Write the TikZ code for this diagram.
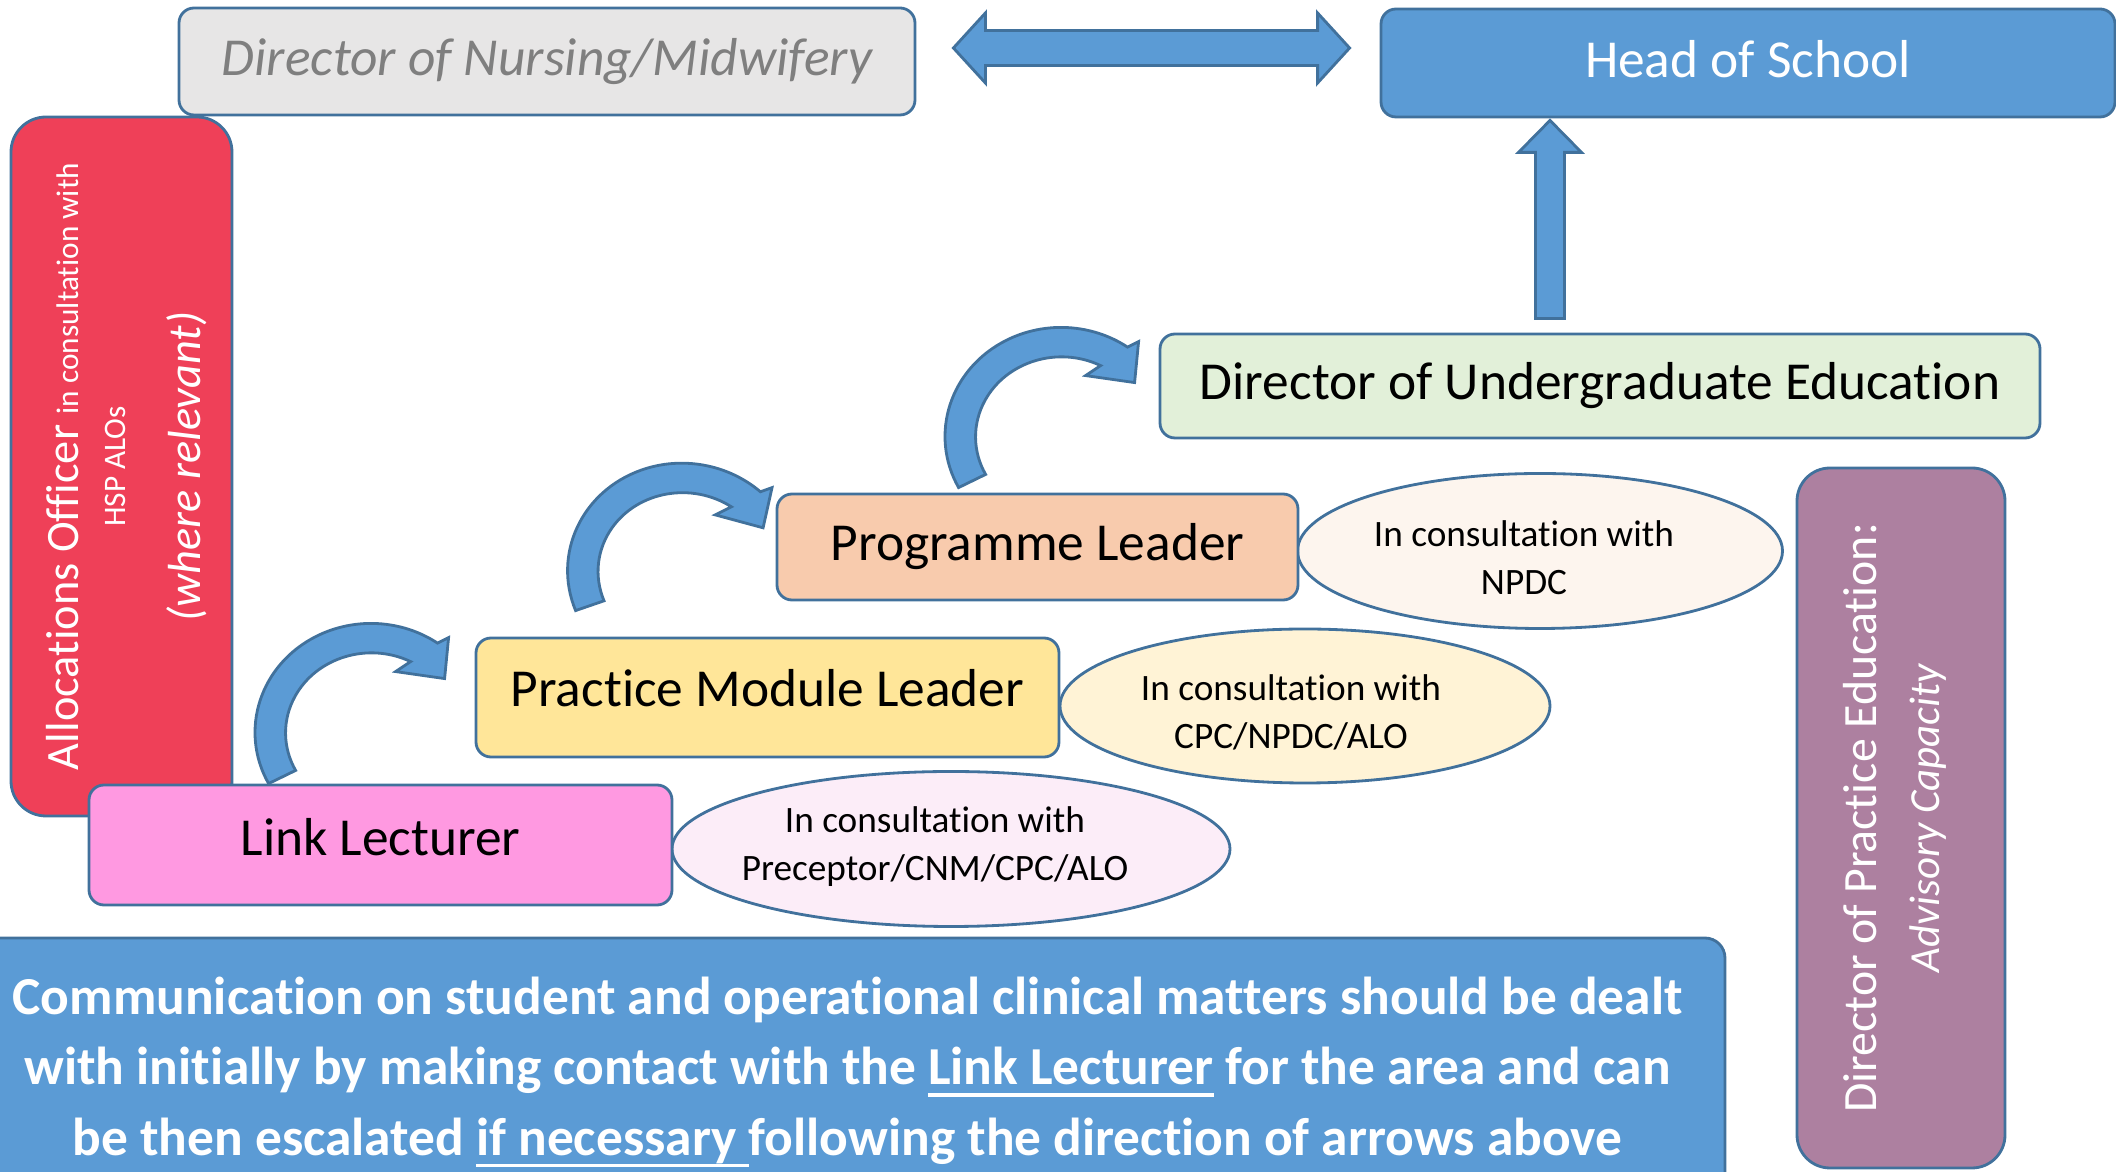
\documentclass[tikz,border=0pt]{standalone}
\usepackage{fontspec}
\setmainfont{Carlito}[Ligatures=NoCommon]
\usetikzlibrary{calc,backgrounds,shapes.geometric}

\definecolor{edgeblue}{HTML}{41719C}
\definecolor{arrowblue}{HTML}{5B9BD5}
\definecolor{greyfill}{HTML}{E7E6E6}
\definecolor{greytext}{HTML}{7F7F7F}
\definecolor{greenfill}{HTML}{E2F0D9}
\definecolor{peachfill}{HTML}{F8CBAD}
\definecolor{yellowfill}{HTML}{FFE699}
\definecolor{pinkfill}{HTML}{FF99E1}
\definecolor{redfill}{HTML}{EF4058}
\definecolor{mauvefill}{HTML}{AD80A0}
\definecolor{npdcfill}{HTML}{FDF5EE}
\definecolor{cpcfill}{HTML}{FFF3D6}
\definecolor{precfill}{HTML}{FCEDF8}

\newsavebox\ulinbox
\newcommand{\ulin}[1]{\sbox\ulinbox{#1}\rlap{\rule[-0.22em]{\wd\ulinbox}{0.066em}}\usebox\ulinbox}

\tikzset{
  role/.style={draw=edgeblue, line width=0.8pt, rounded corners=1.5mm, inner sep=0pt,
    font=\fontsize{15.2}{18}\selectfont},
  consult/.style={ellipse, draw=edgeblue, line width=0.8pt, inner sep=0pt},
  consult text/.style={align=center, inner sep=0pt, font=\fontsize{10.6}{13.7}\selectfont},
  blockarrow/.style={fill=arrowblue, draw=edgeblue, line width=0.8pt, line join=miter},
  curl/.pic={
    \draw[blockarrow] (0,0) arc[start angle=152, end angle=305, x radius=116, y radius=109]
      -- (180,-146) -- (176,-105) -- (127,-112) -- (142,-122)
      arc[start angle=297, end angle=152, x radius=86, y radius=80] -- cycle;
  }
}

\begin{document}
\begin{tikzpicture}[x=0.1mm, y=-0.1mm]
  \useasboundingbox (0,0) rectangle (2116,1172);

  % side boxes
  \node[role, fill=redfill, minimum width=22.1mm, minimum height=69.9mm, rounded corners=3.5mm] (AO) at (121.5,466.5) {};
  \node[rotate=90, text=white, align=center, inner sep=0pt, font=\fontsize{13.2}{13.4}\selectfont] (AO-txt)
        at ($(AO.center)+(5,0)$)
        {Allocations Officer {\fontsize{8.9}{10}\selectfont in consultation with}\\
         {\fontsize{8.9}{10}\selectfont HSP ALOs}\\[8pt]\textit{(where relevant)}};
  \node[role, fill=mauvefill, minimum width=20.8mm, minimum height=70mm, rounded corners=3.3mm] (DPE) at (1901,818) {};
  \node[rotate=90, text=white, align=center, inner sep=0pt, font=\fontsize{13.6}{18}\selectfont] (DPE-txt)
        at ($(DPE.center)+(-6,0)$)
        {Director of Practice Education:\\{\fontsize{12.2}{18}\selectfont\itshape Advisory Capacity}};

  % consultation ellipses
  \node[consult, fill=precfill, minimum width=55.8mm, minimum height=15.5mm] (PRE) at (951,849) {};
  \node[consult text] (PRE-txt) at ($(PRE.center)+(-16,-2)$) {In consultation with\\Preceptor/CNM/CPC/ALO};
  \node[consult, fill=cpcfill, minimum width=49mm, minimum height=15.4mm] (CPC) at (1305,706) {};
  \node[consult text] (CPC-txt) at ($(CPC.center)+(-14,6)$) {In consultation with\\CPC/NPDC/ALO};
  \node[consult, fill=npdcfill, minimum width=48.5mm, minimum height=15.5mm] (NPDC) at (1540,551) {};
  \node[consult text] (NPDC-txt) at ($(NPDC.center)+(-16,7)$) {In consultation with\\NPDC};

  % roles
  \node[role, fill=greyfill, text=greytext, font=\fontsize{15.2}{18}\selectfont\itshape,
        minimum width=73.6mm, minimum height=10.7mm] (DNM) at (547,61.5) {Director of Nursing/Midwifery};
  \node[role, fill=arrowblue, text=white, text depth=0.8mm, minimum width=73.4mm, minimum height=10.8mm] (HoS) at (1748,63) {Head of School};
  \node[role, fill=greenfill, minimum width=88mm, minimum height=10.4mm] (DUE) at (1600,386) {Director of Undergraduate Education};
  \node[role, fill=peachfill, minimum width=52.1mm, minimum height=10.6mm] (PL) at (1037.5,547) {Programme Leader};
  \node[role, fill=yellowfill, text depth=1.9mm, minimum width=58.3mm, minimum height=11.9mm] (PML) at (767.5,697.5) {Practice Module Leader};
  \node[role, fill=pinkfill, text depth=1.6mm, minimum width=58.3mm, minimum height=12mm] (LL) at (380.5,845) {Link Lecturer};

  % note
  \node[role, fill=arrowblue, text=white, rounded corners=2mm, minimum width=175.5mm, minimum height=26.8mm,
        align=center, font=\fontsize{15.2}{20.1}\selectfont\bfseries] (NOTE) at (847.5,1072)
        {Communication on student and operational clinical matters should be dealt\\
         with initially by making contact with the \ulin{Link Lecturer} for the area and can\\
         be then escalated \ulin{if necessary }following the direction of arrows above};

  % escalation arrows
  \begin{scope}[on background layer]
    \pic at ($(LL.north west)+(181,0)$) {curl};
    \pic[rotate=-7] at ($(PML.north west)+(101,-26)$) {curl};
    \pic at ($(PL.north west)+(183,-5)$) {curl};

    \coordinate (ua) at ($(DUE.north)+(-50,-14)$);
    \coordinate (ub) at ($(HoS.south)+(-198,2)$);
    \draw[blockarrow] ($(ua)+(-14.5,0)$) -- ($(ub)+(-14.5,32)$) -- ($(ub)+(-31.5,32)$) -- (ub)
      -- ($(ub)+(31.5,32)$) -- ($(ub)+(14.5,32)$) -- ($(ua)+(14.5,0)$) -- cycle;

    \coordinate (dl) at ($(DNM.east)+(37,-13.5)$);
    \coordinate (dr) at ($(HoS.west)+(-30,-15)$);
    \draw[blockarrow] (dl) -- ($(dl)+(32,-35)$) -- ($(dl)+(32,-17.5)$) -- ($(dr)+(-32,-17.5)$)
      -- ($(dr)+(-32,-35)$) -- (dr) -- ($(dr)+(-32,35)$) -- ($(dr)+(-32,17.5)$)
      -- ($(dl)+(32,17.5)$) -- ($(dl)+(32,35)$) -- cycle;
  \end{scope}
\end{tikzpicture}
\end{document}
